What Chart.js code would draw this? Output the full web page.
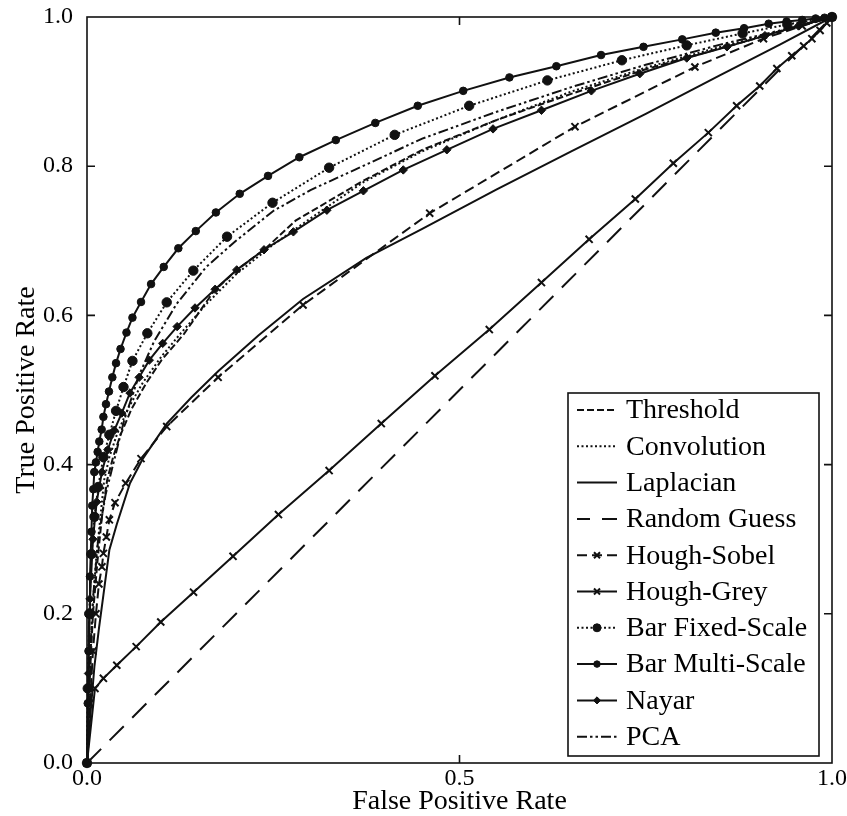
<!DOCTYPE html>
<html><head><meta charset="utf-8">
<script src="https://cdn.jsdelivr.net/npm/chart.js@4.4.0/dist/chart.umd.min.js"></script>
<style>html,body{margin:0;padding:0;background:#fff;}</style>
</head><body>
<canvas id="c" width="847" height="816"></canvas>
<script>
// ---- data ----
const xTickValues = [0, 0.5, 1];
const yTickValues = [0, 0.2, 0.4, 0.6, 0.8, 1];
const seriesNames = ["Threshold","Convolution","Laplacian","Random Guess","Hough-Sobel","Hough-Grey","Bar Fixed-Scale","Bar Multi-Scale","Nayar","PCA"];

const thresholdFPR = [0,0.003,0.008,0.014,0.02,0.027,0.035,0.045,0.06,0.08,0.1,0.13,0.17,0.2,0.24,0.28,0.37,0.45,0.55,0.65,0.75,0.85,0.93,1];
const thresholdTPR = [0,0.1,0.2,0.27,0.33,0.379,0.41,0.44,0.475,0.51,0.54,0.575,0.632,0.66,0.69,0.727,0.78,0.822,0.862,0.897,0.93,0.958,0.98,1];

const convolutionFPR = [0,0.003,0.007,0.012,0.018,0.023,0.03,0.04,0.055,0.075,0.1,0.125,0.16,0.2,0.25,0.3,0.37,0.45,0.55,0.65,0.75,0.85,0.93,1];
const convolutionTPR = [0,0.1,0.2,0.27,0.33,0.379,0.41,0.44,0.475,0.51,0.545,0.575,0.615,0.655,0.695,0.73,0.778,0.82,0.862,0.9,0.932,0.96,0.981,1];

const laplacianFPR = [0,0.005,0.01,0.016,0.022,0.03,0.04,0.0577,0.075,0.107,0.14,0.176,0.23,0.29,0.375,0.45,0.55,0.65,0.75,0.85,0.93,1];
const laplacianTPR = [0,0.07,0.13,0.18,0.225,0.2855,0.32,0.375,0.408,0.455,0.49,0.525,0.573,0.622,0.677,0.716,0.769,0.82,0.87,0.922,0.963,1];

const randomFPR = [0,1];
const randomTPR = [0,1];

const houghSobelFPR = [0,0.004,0.008,0.012,0.016,0.02,0.022,0.026,0.03,0.0376,0.052,0.0725,0.107,0.176,0.29,0.46,0.655,0.816,0.908,0.96,1];
const houghSobelTPR = [0,0.08,0.15,0.2,0.24,0.263,0.281,0.303,0.326,0.349,0.375,0.408,0.451,0.517,0.614,0.737,0.853,0.933,0.971,0.988,1];

const houghGreyFPR = [0,0.0107,0.022,0.04,0.066,0.099,0.143,0.196,0.257,0.325,0.395,0.467,0.54,0.61,0.674,0.736,0.787,0.834,0.872,0.903,0.926,0.946,0.962,0.973,0.984,0.993,1];
const houghGreyTPR = [0,0.1,0.1135,0.131,0.156,0.189,0.229,0.277,0.333,0.392,0.455,0.519,0.581,0.644,0.702,0.756,0.804,0.845,0.881,0.9075,0.931,0.948,0.961,0.971,0.982,0.992,1];

const barFixedFPR = [0,0.001,0.003,0.006,0.01,0.015,0.022,0.03,0.039,0.049,0.061,0.081,0.107,0.1427,0.188,0.249,0.325,0.413,0.513,0.618,0.718,0.805,0.88,0.94,1];
const barFixedTPR = [0,0.1,0.2,0.28,0.33,0.37,0.41,0.44,0.472,0.504,0.539,0.576,0.6175,0.66,0.7055,0.751,0.798,0.842,0.881,0.915,0.942,0.962,0.978,0.99,1];

const barMultiFPR = [0,0.001,0.002,0.003,0.004,0.005,0.006,0.007,0.0085,0.0098,0.012,0.0143,0.0165,0.0197,0.022,0.0255,0.0295,0.034,0.039,0.045,0.053,0.061,0.0725,0.086,0.103,0.1226,0.146,0.173,0.205,0.243,0.285,0.334,0.387,0.444,0.505,0.567,0.63,0.69,0.747,0.799,0.844,0.882,0.915,0.939,0.96,0.978,0.99,1];
const barMultiTPR = [0,0.08,0.15,0.2,0.25,0.28,0.31,0.345,0.367,0.39,0.403,0.417,0.431,0.447,0.464,0.481,0.498,0.517,0.536,0.555,0.577,0.597,0.618,0.642,0.665,0.69,0.713,0.738,0.763,0.787,0.812,0.835,0.858,0.881,0.901,0.919,0.934,0.949,0.96,0.97,0.979,0.985,0.991,0.994,0.996,0.998,0.999,1];

const nayarFPR = [0,0.002,0.004,0.008,0.013,0.02,0.028,0.0366,0.0466,0.0577,0.07,0.0836,0.1016,0.121,0.145,0.172,0.201,0.2376,0.277,0.322,0.371,0.4245,0.483,0.545,0.61,0.677,0.742,0.805,0.859,0.91,0.955,1];
const nayarTPR = [0,0.12,0.22,0.3,0.35,0.39,0.42,0.446,0.469,0.496,0.517,0.54,0.5625,0.585,0.61,0.635,0.661,0.688,0.712,0.741,0.767,0.795,0.822,0.85,0.875,0.901,0.924,0.945,0.96,0.975,0.988,1];

const pcaFPR = [0,0.003,0.008,0.015,0.025,0.035,0.05,0.07,0.09,0.12,0.16,0.2,0.25,0.3,0.37,0.45,0.55,0.65,0.75,0.85,0.93,1];
const pcaTPR = [0,0.12,0.22,0.3,0.36,0.4,0.46,0.52,0.565,0.615,0.665,0.7,0.74,0.768,0.8,0.837,0.873,0.906,0.936,0.963,0.982,1];

// ---- build datasets ----
const pts = (xs, ys) => xs.map((x, i) => ({x: x, y: ys[i]}));
const FONT = '"Liberation Serif", "Times New Roman", serif';

function ds(label, xs, ys, dash, style, radius, legendOffset) {
  return {
    label: label, data: pts(xs, ys),
    borderColor: '#111', backgroundColor: '#111',
    borderWidth: 2, borderDash: dash, tension: 0,
    pointStyle: style || 'circle', pointRadius: radius || 0,
    pointBorderWidth: style === 'crossRot' ? 2 : 1,
    pointBorderColor: '#111', pointBackgroundColor: '#111',
    pointHoverRadius: radius || 0, clip: false, fill: false,
    legendDashOffset: legendOffset || 0
  };
}

const datasets = [
  ds(seriesNames[0], thresholdFPR, thresholdTPR, [7,3]),
  ds(seriesNames[1], convolutionFPR, convolutionTPR, [2,2.5]),
  ds(seriesNames[2], laplacianFPR, laplacianTPR, []),
  ds(seriesNames[3], randomFPR, randomTPR, [20,12], null, 0, 7),
  ds(seriesNames[4], houghSobelFPR, houghSobelTPR, [10,5], 'crossRot', 5),
  ds(seriesNames[5], houghGreyFPR, houghGreyTPR, [], 'crossRot', 5),
  ds(seriesNames[6], barFixedFPR, barFixedTPR, [2,2.5], 'circle', 4.7),
  ds(seriesNames[7], barMultiFPR, barMultiTPR, [], 'circle', 3.8),
  ds(seriesNames[8], nayarFPR, nayarTPR, [], 'rectRot', 4.2),
  ds(seriesNames[9], pcaFPR, pcaTPR, [10,3,2.5,3,2.5,3])
];

// frame + inner ticks
const framePlugin = {
  id: 'frame',
  afterDatasetsDraw(chart) {
    const {ctx, chartArea: a, scales} = chart;
    ctx.save();
    ctx.strokeStyle = '#111'; ctx.lineWidth = 1.6; ctx.setLineDash([]);
    ctx.strokeRect(a.left, a.top, a.right - a.left, a.bottom - a.top);
    const tl = 8;
    ctx.beginPath();
    xTickValues.slice(1, -1).forEach(v => {
      const px = scales.x.getPixelForValue(v);
      ctx.moveTo(px, a.bottom); ctx.lineTo(px, a.bottom - tl);
      ctx.moveTo(px, a.top); ctx.lineTo(px, a.top + tl);
    });
    yTickValues.slice(1, -1).forEach(v => {
      const py = scales.y.getPixelForValue(v);
      ctx.moveTo(a.left, py); ctx.lineTo(a.left + tl, py);
      ctx.moveTo(a.right, py); ctx.lineTo(a.right - tl, py);
    });
    ctx.stroke();
    ctx.restore();
  }
};

// legend box drawn inside the plot
const legendPlugin = {
  id: 'boxLegend',
  afterDraw(chart) {
    const ctx = chart.ctx;
    const bx = 568, by = 393, bw = 251, bh = 363;
    ctx.save();
    ctx.fillStyle = '#fff';
    ctx.fillRect(bx, by, bw, bh);
    ctx.strokeStyle = '#111'; ctx.lineWidth = 1.6; ctx.setLineDash([]);
    ctx.strokeRect(bx, by, bw, bh);
    chart.data.datasets.forEach((d, i) => {
      const y = 410 + i * 36.3;
      ctx.strokeStyle = '#111'; ctx.lineWidth = 2;
      ctx.setLineDash(d.borderDash || []);
      ctx.lineDashOffset = d.legendDashOffset || 0;
      ctx.beginPath(); ctx.moveTo(577, y); ctx.lineTo(617, y); ctx.stroke();
      ctx.setLineDash([]); ctx.lineDashOffset = 0;
      if (d.pointRadius > 0) {
        ctx.fillStyle = '#111'; ctx.strokeStyle = '#111';
        ctx.lineWidth = d.pointBorderWidth;
        Chart.helpers.drawPoint(ctx, {pointStyle: d.pointStyle, radius: d.pointRadius * 0.85, rotation: 0, borderWidth: d.pointBorderWidth}, 597, y);
      }
      ctx.fillStyle = '#000';
      ctx.font = '28px ' + FONT;
      ctx.textBaseline = 'middle'; ctx.textAlign = 'left';
      ctx.fillText(d.label, 626, y + 1);
    });
    ctx.restore();
  }
};

function noPad(s) { s.paddingTop = 0; s.paddingBottom = 0; s.paddingLeft = 0; s.paddingRight = 0; }

new Chart(document.getElementById('c'), {
  type: 'line',
  data: { datasets: datasets },
  options: {
    responsive: false, animation: false, devicePixelRatio: 1,
    layout: { padding: { top: 17, right: 15, left: 0, bottom: 0 } },
    plugins: { legend: { display: false }, tooltip: { enabled: false } },
    elements: { line: { borderCapStyle: 'butt' } },
    scales: {
      x: {
        type: 'linear', min: 0, max: 1,
        afterFit: s => { s.height = 53; noPad(s); },
        afterBuildTicks: s => { s.ticks = xTickValues.map(v => ({value: v})); },
        grid: { display: false, drawTicks: false }, border: { display: false },
        ticks: { color: '#000', padding: 1, font: { family: FONT, size: 24 }, maxRotation: 0,
                 callback: v => Number(v).toFixed(1) },
        title: { display: true, text: 'False Positive Rate', color: '#000',
                 font: { family: FONT, size: 28, lineHeight: 1.0 }, padding: { top: 0, bottom: 0 } }
      },
      y: {
        type: 'linear', min: 0, max: 1,
        afterFit: s => { s.width = 87; noPad(s); },
        afterBuildTicks: s => { s.ticks = yTickValues.map(v => ({value: v})); },
        grid: { display: false, drawTicks: false }, border: { display: false },
        ticks: { color: '#000', padding: 14, font: { family: FONT, size: 24 },
                 callback: v => Number(v).toFixed(1) },
        title: { display: true, text: 'True Positive Rate', color: '#000',
                 font: { family: FONT, size: 28 }, padding: { top: 10, bottom: 0 } }
      }
    }
  },
  plugins: [framePlugin, legendPlugin]
});
</script>
</body></html>
